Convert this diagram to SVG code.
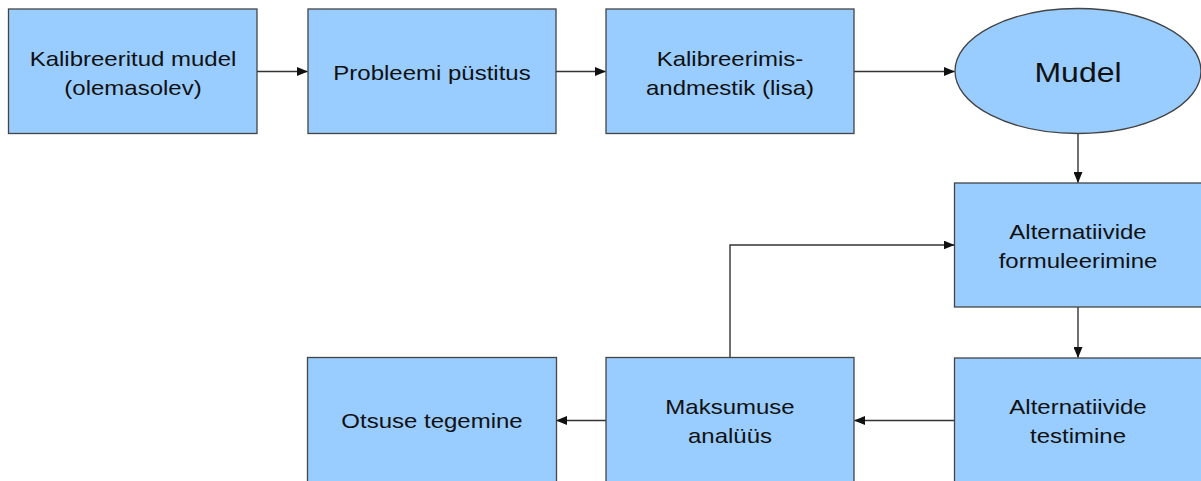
<svg xmlns="http://www.w3.org/2000/svg" width="1201" height="481" viewBox="0 0 1201 481">
  <defs>
    <marker id="arrow" markerWidth="11" markerHeight="9" refX="10.5" refY="4.5" orient="auto" markerUnits="userSpaceOnUse">
      <path d="M0,0 L11,4.5 L0,9 z" fill="#111"/>
    </marker>
    <style>
      .box { fill: #99ccff; stroke: #444; stroke-width: 1.3; }
      .lbl { font-family: "Liberation Sans", Arial, sans-serif; font-size: 24px; fill: #111; text-anchor: middle; }
      .big { font-size: 32px; }
      .conn { fill: none; stroke: #333; stroke-width: 1.4; marker-end: url(#arrow); }
    </style>
  </defs>
  <rect width="1201" height="481" fill="#fff"/>

  <g id="connectors">
    <path class="conn" d="M257,71.5 L307.5,71.5"/>
    <path class="conn" d="M556,71.5 L605.5,71.5"/>
    <path class="conn" d="M854,71.5 L954.5,71.5"/>
    <path class="conn" d="M1078,133.5 L1078,182.5"/>
    <path class="conn" d="M1078,306.5 L1078,357.5"/>
    <path class="conn" d="M954.5,420.5 L854.5,420.5"/>
    <path class="conn" d="M606,420.5 L556.5,420.5"/>
    <path class="conn" d="M730,357.5 L730,245 L954,245"/>
  </g>

  <g id="kalibreeritud-mudel">
    <rect class="box" x="8.5" y="9" width="248.5" height="124.5"/>
    <text class="lbl" transform="translate(133,65.7) scale(1,0.85)">Kalibreeritud mudel</text>
    <text class="lbl" transform="translate(133,94.7) scale(1,0.85)">(olemasolev)</text>
  </g>

  <g id="probleemi-pustitus">
    <rect class="box" x="308" y="9" width="248" height="124.5"/>
    <text class="lbl" transform="translate(432,79.5) scale(1,0.85)">Probleemi püstitus</text>
  </g>

  <g id="kalibreerimisandmestik">
    <rect class="box" x="606" y="9" width="248" height="124.5"/>
    <text class="lbl" transform="translate(730,65.7) scale(1,0.85)">Kalibreerimis-</text>
    <text class="lbl" transform="translate(730,94.7) scale(1,0.85)">andmestik (lisa)</text>
  </g>

  <g id="mudel">
    <ellipse class="box" cx="1078" cy="71" rx="123" ry="62.5"/>
    <text class="lbl big" transform="translate(1078,81.7) scale(1,0.85)">Mudel</text>
  </g>

  <g id="alternatiivide-formuleerimine">
    <rect class="box" x="954.5" y="183" width="248" height="124"/>
    <text class="lbl" transform="translate(1078,239) scale(1,0.85)">Alternatiivide</text>
    <text class="lbl" transform="translate(1078,268) scale(1,0.85)">formuleerimine</text>
  </g>

  <g id="alternatiivide-testimine">
    <rect class="box" x="954.5" y="358" width="248" height="125"/>
    <text class="lbl" transform="translate(1078,413.5) scale(1,0.85)">Alternatiivide</text>
    <text class="lbl" transform="translate(1078,442.5) scale(1,0.85)">testimine</text>
  </g>

  <g id="maksumuse-analuus">
    <rect class="box" x="606" y="357.5" width="248" height="125"/>
    <text class="lbl" transform="translate(730,413.5) scale(1,0.85)">Maksumuse</text>
    <text class="lbl" transform="translate(730,442.5) scale(1,0.85)">analüüs</text>
  </g>

  <g id="otsuse-tegemine">
    <rect class="box" x="307.5" y="357.5" width="249" height="125"/>
    <text class="lbl" transform="translate(432,428.3) scale(1,0.85)">Otsuse tegemine</text>
  </g>
</svg>
